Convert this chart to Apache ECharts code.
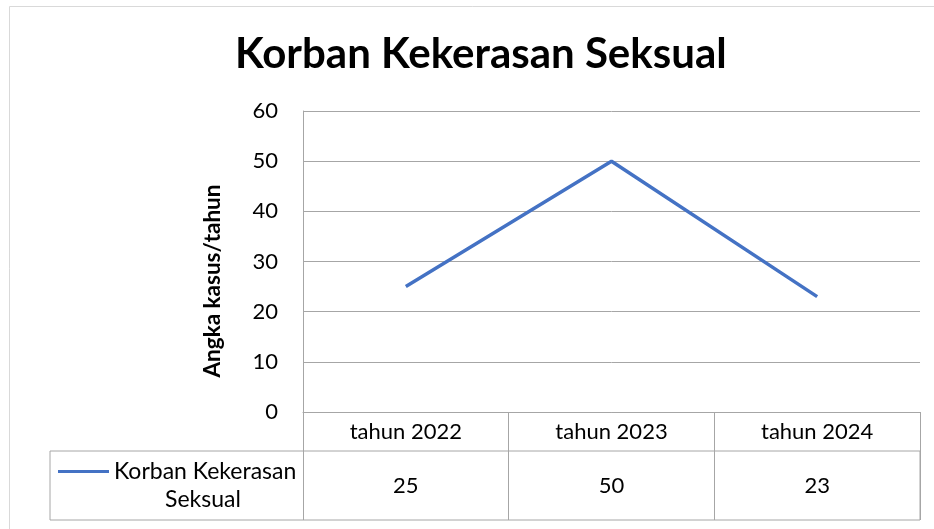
<!DOCTYPE html>
<html>
<head>
<meta charset="utf-8">
<script src="https://cdn.jsdelivr.net/npm/echarts@6/dist/echarts.min.js"></script>
<style>html,body{margin:0;padding:0;background:#fff}#c{width:934px;height:529px}</style>
</head>
<body>
<div id="c"></div>
<script>
const titleText = 'Korban Kekerasan Seksual';
const yAxisName = 'Angka kasus/tahun';
const seriesName = 'Korban Kekerasan Seksual';
const categories = ['tahun 2022', 'tahun 2023', 'tahun 2024'];
const values = [25, 50, 23];
const yTicks = { min: 0, max: 60, interval: 10 };

const FONT = 'Lato';
const GRID_COLOR = '#A6A6A6';
const chart = echarts.init(document.getElementById('c'), null, { renderer: 'canvas' });
chart.setOption({
  animation: false,
  backgroundColor: '#ffffff',
  textStyle: { fontFamily: FONT, color: '#000' },
  title: {
    text: titleText,
    left: 235,
    top: 33,
    padding: 0,
    textStyle: { fontFamily: FONT, fontSize: 42, fontWeight: 'bold', color: '#000' }
  },
  graphic: [{
    type: 'rect', silent: true,
    shape: { x: 9.5, y: 6.5, width: 1000, height: 1000 },
    style: { fill: 'none', stroke: '#D9D9D9', lineWidth: 1 }
  }],
  legend: {
    left: 58, top: 460, padding: 0,
    icon: 'rect',
    itemWidth: 51, itemHeight: 3,
    data: [seriesName],
    formatter: function () { return '{a|Korban Kekerasan}\n{b|Seksual}'; },
    textStyle: {
      padding: [28, 0, 0, 0],
      rich: {
        a: { fontFamily: FONT, fontSize: 23, lineHeight: 28, color: '#000' },
        b: { fontFamily: FONT, fontSize: 23, lineHeight: 28, color: '#000', padding: [0, 0, 0, 51] }
      }
    }
  },
  grid: [
    { left: 303, right: 14, top: 111, bottom: 117, containLabel: false },
    { left: 50, right: 14, top: 451, bottom: 9, show: true, borderColor: GRID_COLOR, borderWidth: 1, backgroundColor: 'transparent' }
  ],
  xAxis: [
    {
      type: 'category', gridIndex: 0, data: categories, boundaryGap: true,
      axisLine: { show: true, lineStyle: { color: GRID_COLOR, width: 1 } },
      axisTick: { show: true, length: 108, interval: 0, lineStyle: { color: GRID_COLOR, width: 1 } },
      axisLabel: { fontFamily: FONT, fontSize: 22, color: '#000', margin: 8, lineHeight: 24, interval: 0 }
    },
    {
      type: 'category', gridIndex: 0, data: categories, position: 'bottom', boundaryGap: true,
      axisLine: { show: false }, axisTick: { show: false },
      axisLabel: {
        fontFamily: FONT, fontSize: 22, color: '#000', margin: 62, lineHeight: 24, interval: 0,
        formatter: function (v, i) { return String(values[i]); }
      }
    },
    { type: 'value', gridIndex: 1, show: false }
  ],
  yAxis: [
    {
      type: 'value', gridIndex: 0, min: yTicks.min, max: yTicks.max, interval: yTicks.interval,
      name: yAxisName, nameLocation: 'middle', nameRotate: 90, nameGap: 79,
      nameTextStyle: { fontFamily: FONT, fontSize: 22.5, fontWeight: 'bold', color: '#000', padding: [0, 39, 0, 0] },
      axisLine: { show: true, lineStyle: { color: GRID_COLOR, width: 1 } },
      axisTick: { show: false },
      axisLabel: { fontFamily: FONT, fontSize: 22, color: '#000', margin: 25 },
      splitLine: { show: true, lineStyle: { color: GRID_COLOR, width: 1 } }
    },
    { type: 'value', gridIndex: 1, show: false }
  ],
  series: [{
    name: seriesName, type: 'line', xAxisIndex: 0, yAxisIndex: 0,
    data: values, symbol: 'none', smooth: false,
    lineStyle: { color: '#4472C4', width: 3.5 }, itemStyle: { color: '#4472C4' }
  }]
});
</script>
</body>
</html>
